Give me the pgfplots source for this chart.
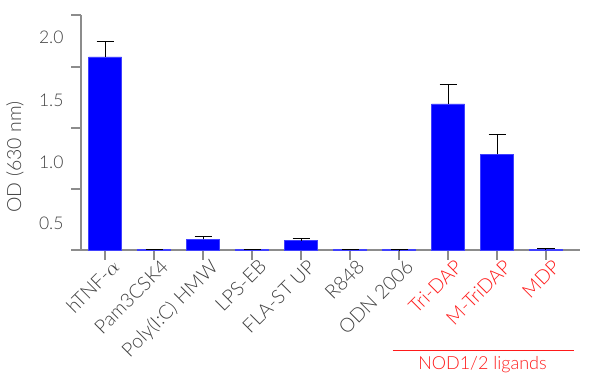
\documentclass[border=0pt]{standalone}
\usepackage{fontspec}
\setmainfont{Lato Light}
\usepackage{pgfplots}
\pgfplotsset{compat=1.18}
\usepackage{pgfplotstable}
\definecolor{axgray}{HTML}{8C8C8C}
\definecolor{txt}{HTML}{404040}
\definecolor{nodred}{HTML}{FF1A1A}
\pgfplotstableread{
x y err
0 1.582 0.123
1 0.005 0.001
2 0.088 0.021
3 0.006 0.002
4 0.076 0.017
5 0.005 0.001
6 0.003 0.001
7 1.197 0.158
8 0.784 0.161
9 0.008 0.002
}\datatab
\begin{document}
\begin{tikzpicture}[font=\fontsize{17bp}{20bp}\selectfont]
\path[use as bounding box] (-81bp,-134bp) rectangle (519bp,250bp);
\begin{axis}[
  scale only axis,
  width=499bp, height=235bp,
  at={(0,0)}, anchor=south west,
  axis lines=left,
  axis line style={-, axgray, line width=1.2bp},
  xmin=-0.49, xmax=9.694,
  ymin=0, ymax=1.926,
  ybar, bar width=33bp,
  tick align=outside,
  major tick length=9.5bp,
  tick style={axgray, line width=1.2bp},
  xtick={0,...,9},
  xticklabels={hTNF-$\alpha$, Pam3CSK4, Poly(I:C) HMW, LPS-EB, FLA-ST UP, R848, ODN 2006, \textcolor{nodred}{Tri-DAP}, \textcolor{nodred}{M-TriDAP}, \textcolor{nodred}{MDP}},
  x tick label style={rotate=45, anchor=north east, inner sep=1bp, xshift=6bp, yshift=-2bp, text=txt, font=\fontsize{19.5bp}{22bp}\selectfont},
  ytick={0,0.5,1,1.5,1.926},
  yticklabels={},
  extra y ticks={0.221,0.721,1.23,1.743},
  extra y tick labels={0.5,1.0,1.5,2.0},
  extra y tick style={major tick length=0pt, yticklabel style={xshift=-14bp}},
  y tick label style={text=txt, font=\fontsize{17.5bp}{20bp}\selectfont},
  /pgf/number format/assume math mode=true,
  clip=false,
]
\addplot[fill=blue, draw=blue!75!white, line width=0.6bp,
  error bars/.cd, y dir=plus, y explicit,
  error bar style={black, line width=1bp},
  error mark options={black, rotate=90, mark size=8.5bp, line width=1bp}]
  table[x=x, y=y, y error=err] {\datatab};
\end{axis}
\node[rotate=90, text=txt, font=\fontsize{19.5bp}{22bp}\selectfont] at (-66bp,93bp) {OD (630 nm)};
\draw[nodred, line width=0.8bp] (311.7bp,-100bp) -- (493.3bp,-100bp);
\node[text=nodred, font=\fontsize{18bp}{21bp}\selectfont] at (401.5bp,-115bp) {NOD1/2 ligands};
\end{tikzpicture}
\end{document}
